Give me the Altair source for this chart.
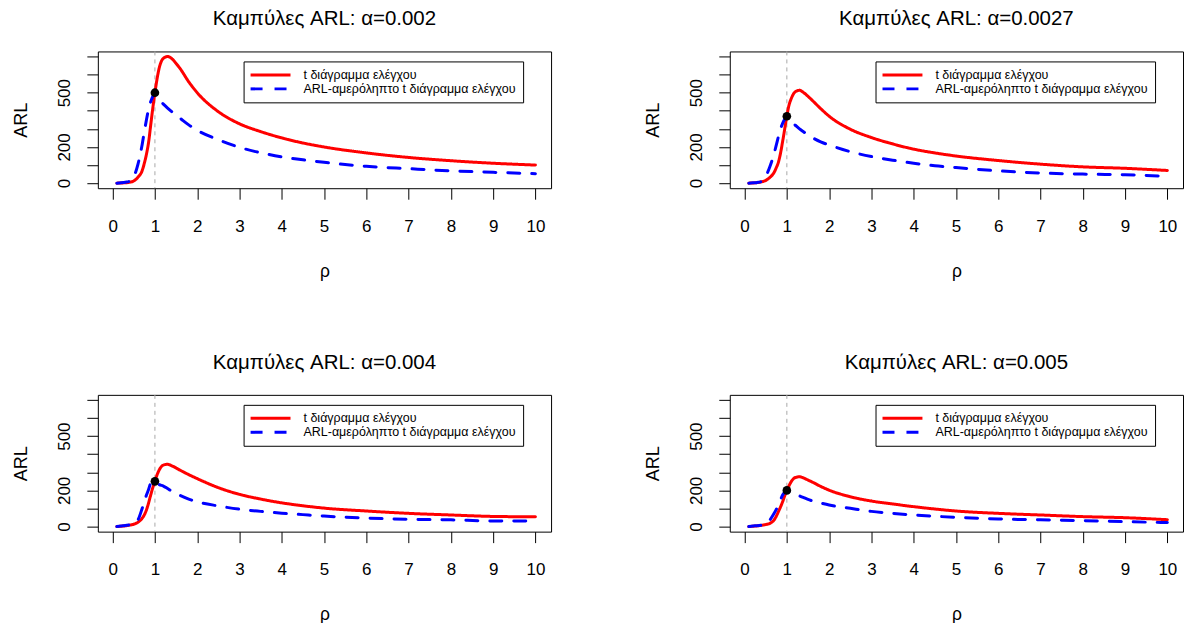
import altair as alt
import pandas as pd

FONT = "Liberation Sans"

# rho grid shared by all panels
rho = [0.1, 0.2, 0.3, 0.4, 0.5, 0.6, 0.7, 0.75, 0.8, 0.85, 0.9, 0.95, 1.0, 1.05, 1.1,
       1.2, 1.3, 1.4, 1.5, 1.6, 1.8, 2.0, 2.5, 3.0, 3.5, 4.0, 4.5, 5.0, 6.0, 7.0, 8.0, 9.0, 10.0]

alphas = ["0.002", "0.0027", "0.004", "0.005"]
arl0 = [500, 370, 250, 200]
series_names = ["t διάγραμμα ελέγχου", "ARL-αμερόληπτο t διάγραμμα ελέγχου"]

# t control chart ARL (red, solid)
arl_t_0002 = [0, 1, 2, 5, 12, 33, 70, 110, 160, 225, 320, 415, 500, 575, 635, 690, 700, 688, 662,
              632, 560, 500, 395, 328, 285, 250, 222, 200, 167, 142, 124, 110, 100]
arl_t_0027 = [0, 1, 3, 7, 15, 32, 60, 85, 115, 165, 230, 300, 370, 430, 465, 505, 513, 500, 480,
              458, 412, 370, 298, 252, 217, 188, 167, 150, 125, 105, 90, 82, 70]
arl_t_0040 = [0, 2, 4, 8, 13, 24, 46, 65, 92, 130, 174, 215, 250, 285, 312, 340, 344, 336, 324,
              311, 287, 265, 215, 178, 152, 131, 115, 102, 86, 73, 64, 56, 54]
arl_t_0050 = [0, 2, 4, 7, 11, 18, 37, 57, 82, 108, 137, 170, 200, 225, 247, 271, 275, 268, 257,
              246, 222, 201, 165, 141, 125, 110, 97, 86, 73, 64, 55, 49, 38]

# ARL-unbiased t control chart ARL (blue, dashed)
arl_u_0002 = [0, 2, 5, 10, 35, 105, 215, 285, 350, 410, 450, 480, 500, 480, 462, 437, 415, 395, 376,
              358, 322, 292, 240, 198, 168, 145, 129, 115, 93, 80, 68, 60, 52]
arl_u_0027 = [0, 2, 4, 9, 37, 92, 165, 210, 257, 300, 330, 355, 370, 355, 340, 320, 300, 283, 266,
              252, 228, 211, 174, 147, 127, 110, 96, 86, 68, 56, 50, 46, 38]
arl_u_0040 = [0, 3, 6, 9, 15, 37, 101, 135, 174, 205, 238, 245, 250, 240, 232, 224, 210, 195, 183,
              172, 152, 137, 114, 96, 84, 74, 66, 58, 47, 40, 37, 31, 31]
arl_u_0050 = [0, 3, 5, 8, 13, 37, 73, 95, 119, 148, 174, 190, 200, 195, 190, 183, 170, 160, 150,
              142, 130, 119, 101, 84, 73, 64, 57, 51, 42, 37, 33, 27, 22]

x_ticks = list(range(0, 11))
y_ticks = list(range(0, 701, 100))

t_series = [arl_t_0002, arl_t_0027, arl_t_0040, arl_t_0050]
u_series = [arl_u_0002, arl_u_0027, arl_u_0040, arl_u_0050]

W, H = 454, 137

xscale = alt.Scale(domain=[-0.35, 10.37], nice=False, zero=False)
yscale = alt.Scale(domain=[-28, 728], nice=False, zero=False)

xaxis = alt.Axis(values=x_ticks, title="ρ", titleFontSize=17.5, titleX=W / 2, titleY=88,
                 titleBaseline="alphabetic", titleAlign="center",
                 labelFontSize=17, labelBaseline="alphabetic", labelPadding=32,
                 tickSize=11, labelOverlap=False, labelFlush=False)
yaxis = alt.Axis(values=y_ticks, title="ARL", titleFontSize=18, titleAngle=270,
                 titleX=-71, titleY=H / 2, titleBaseline="alphabetic", titleAlign="center",
                 labelFontSize=17, labelAngle=-90, labelAlign="center", labelBaseline="alphabetic",
                 labelPadding=17, tickSize=11, labelOverlap=False, labelFlush=False,
                 labelExpr="(datum.value == 0 || datum.value == 200 || datum.value == 500) ? datum.label : ''")

leg = alt.Legend(title=None, orient="none", legendX=146, legendY=10,
                 symbolType="M-1.3,0H6.7", symbolSize=100, symbolStrokeWidth=3,
                 labelFont=FONT, labelFontSize=12.5, labelColor="black", labelLimit=400,
                 strokeColor="black", fillColor="white", padding=7, rowPadding=1,
                 labelOffset=40)


def panel(i):
    n = len(rho)
    df = pd.DataFrame({
        "rho": rho + rho,
        "ARL": t_series[i] + u_series[i],
        "series": [series_names[0]] * n + [series_names[1]] * n,
    })
    rule_df = pd.DataFrame({"rho": [1.0]})
    pt_df = pd.DataFrame({"rho": [1.0], "ARL": [arl0[i]]})

    rule = alt.Chart(rule_df).mark_rule(color="#A8A8A8", strokeDash=[4, 4], strokeWidth=1).encode(
        x=alt.X("rho:Q", scale=xscale, axis=xaxis)
    )
    lines = alt.Chart(df).mark_line(strokeWidth=3, strokeCap="round", strokeJoin="round",
                                    interpolate="monotone").encode(
        x=alt.X("rho:Q", scale=xscale, axis=xaxis),
        y=alt.Y("ARL:Q", scale=yscale, axis=yaxis),
        color=alt.Color("series:N", scale=alt.Scale(domain=series_names, range=["#FF0000", "#0000FF"]),
                        legend=leg),
        strokeDash=alt.StrokeDash("series:N",
                                  scale=alt.Scale(domain=series_names, range=[[1, 0], [12, 12]]),
                                  legend=leg),
    )
    pt = alt.Chart(pt_df).mark_point(filled=True, color="black", size=75, opacity=1).encode(
        x=alt.X("rho:Q", scale=xscale, axis=xaxis),
        y=alt.Y("ARL:Q", scale=yscale, axis=yaxis),
    )
    return alt.layer(rule, lines, pt).properties(
        width=W, height=H,
        title=alt.TitleParams(f"Καμπύλες ARL: α={alphas[i]}", fontSize=20.5, font=FONT,
                              fontWeight="normal", color="black", anchor="middle",
                              baseline="alphabetic", offset=5),
    )


def hrow(a, b):
    return alt.hconcat(panel(a), panel(b), spacing=179, bounds="flush").resolve_scale(
        color="independent", strokeDash="independent"
    ).resolve_legend(color="independent", strokeDash="independent")


chart = alt.vconcat(hrow(0, 1), hrow(2, 3), spacing=344, bounds="flush").resolve_scale(
    color="independent", strokeDash="independent"
).resolve_legend(color="independent", strokeDash="independent").properties(
    padding={"left": 12, "top": 8, "right": 0, "bottom": 0},
    background="white",
).configure_view(
    stroke="black", strokeWidth=1
).configure_axis(
    grid=False, domain=False, tickColor="black", tickWidth=1,
    labelColor="black", titleColor="black", labelFont=FONT, titleFont=FONT,
    titleFontWeight="normal",
)

chart.save("out.html", embed_options={"renderer": "svg", "actions": False})
